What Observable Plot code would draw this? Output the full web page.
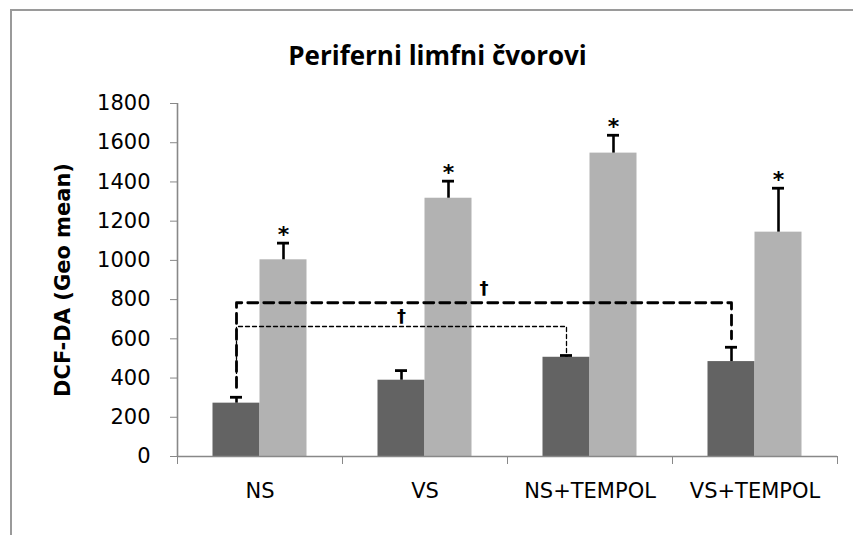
<!DOCTYPE html>
<html><head><meta charset="utf-8">
<script src="https://cdn.jsdelivr.net/npm/d3@7"></script>
<script src="https://cdn.jsdelivr.net/npm/@observablehq/plot@0.6"></script>
<style>
body{margin:0;background:#fff;}
#wrap{position:relative;width:853px;height:535px;overflow:hidden;background:#fff;}
#frame{position:absolute;left:10px;top:9px;width:900px;height:600px;border-left:2.5px solid #9a9a9a;border-top:2.5px solid #9a9a9a;box-sizing:border-box;}
#title{position:absolute;left:0;width:875px;top:42px;text-align:center;font:bold 26px "Open Sans";line-height:26px;color:#000;}
#chart{position:absolute;left:0;top:0;}
</style></head>
<body>
<div id="wrap"><div id="frame"></div><div id="title">Periferni limfni čvorovi</div><div id="chart"></div></div>
<script>
const categories = ["NS", "VS", "NS+TEMPOL", "VS+TEMPOL"];
const darkValues = [272, 389, 506, 484];
const darkErrors = [30, 49, 9, 73];
const lightValues = [1003, 1317, 1547, 1144];
const lightErrors = [85, 87, 91, 224];
const lightMarks = ["*", "*", "*", "*"];
const yTicks = [0, 200, 400, 600, 800, 1000, 1200, 1400, 1600, 1800];
const yLabel = "DCF-DA (Geo mean)";
// significance brackets (between dark bars)
const bracketFrom = ["NS", "NS"];
const bracketTo = ["VS+TEMPOL", "NS+TEMPOL"];
const bracketLevel = [784, 663];
const bracketLeftEnd = [352, 352];
const bracketRightEnd = [600, 522];
const bracketMark = ["†", "†"];

const BW = 47 / 165; // bar width as fraction of category
const idx = c => categories.indexOf(c);
const darkCenter = i => i + 0.5 - BW / 2;
const lightCenter = i => i + 0.5 + BW / 2;

const rows = categories.flatMap((c, i) => [
  {cat: c, i, group: "dark", value: darkValues[i], err: darkErrors[i], x1: i + 0.5 - BW, x2: i + 0.5, cx: darkCenter(i)},
  {cat: c, i, group: "light", value: lightValues[i], err: lightErrors[i], x1: i + 0.5, x2: i + 0.5 + BW, cx: lightCenter(i), mark: lightMarks[i]}
]);
const lightRows = rows.filter(d => d.group === "light");

const brackets = bracketFrom.map((f, k) => {
  const a = darkCenter(idx(f)), b = darkCenter(idx(bracketTo[k]));
  return {k, a, b, mid: (a + b) / 2, level: bracketLevel[k], text: bracketMark[k],
    pts: [{x: a, y: bracketLeftEnd[k]}, {x: a, y: bracketLevel[k]}, {x: b, y: bracketLevel[k]}, {x: b, y: bracketRightEnd[k]}]};
});

const capHalf = 6 / 165;

const chart = Plot.plot({
  width: 853, height: 535,
  marginLeft: 177, marginRight: 16, marginTop: 103, marginBottom: 79,
  style: {fontFamily: "DejaVu Sans", fontSize: "21px", color: "#000", background: "transparent", overflow: "visible"},
  x: {domain: [0, categories.length], axis: null},
  y: {domain: [0, 1800], axis: null},
  marks: [
    Plot.rectY(rows, {x1: "x1", x2: "x2", y1: 0, y2: "value", fill: d => d.group === "dark" ? "#636363" : "#b2b2b2"}),
    Plot.ruleX(rows, {x: "cx", y1: "value", y2: d => d.value + d.err, stroke: "#000", strokeWidth: 2.6}),
    Plot.ruleY(rows, {x1: d => d.cx - capHalf, x2: d => d.cx + capHalf, y: d => d.value + d.err, stroke: "#000", strokeWidth: 2.8}),
    Plot.text(lightRows, {x: "cx", y: d => d.value + d.err, text: "mark", dy: -8, fontSize: 22, fontWeight: "bold"}),
    Plot.line(brackets[0].pts, {x: "x", y: "y", stroke: "#000", strokeWidth: 2.8, strokeDasharray: "10,6", curve: "linear"}),
    Plot.line(brackets[1].pts, {x: "x", y: "y", stroke: "#000", strokeWidth: 1.3, strokeDasharray: "4,3", curve: "linear"}),
    Plot.text([brackets[0]], {x: "mid", y: "level", text: "text", dy: -15, fontSize: 18, fontWeight: "bold"}),
    Plot.text([brackets[1]], {x: "mid", y: "level", text: "text", dy: -10, fontSize: 18, fontWeight: "bold"}),
    Plot.axisY({ticks: yTicks, tickSize: 7, tickPadding: 20, stroke: "#888", fill: "#000", tickFormat: d => String(d)}),
    Plot.axisX({ticks: d3.range(categories.length + 1), tickSize: 8, stroke: "#888", tickFormat: () => ""}),
    Plot.ruleX([0], {stroke: "#888", strokeWidth: 1.6}),
    Plot.ruleY([0], {stroke: "#888", strokeWidth: 1.6}),
    Plot.text(categories, {x: (d, i) => i + 0.5, frameAnchor: "bottom", dy: 41, text: d => d}),
    Plot.text([yLabel], {frameAnchor: "left", dx: -114, rotate: -90, textAnchor: "middle", fontWeight: "bold", text: d => d})
  ]
});
document.getElementById("chart").appendChild(chart);
</script>
</body></html>
